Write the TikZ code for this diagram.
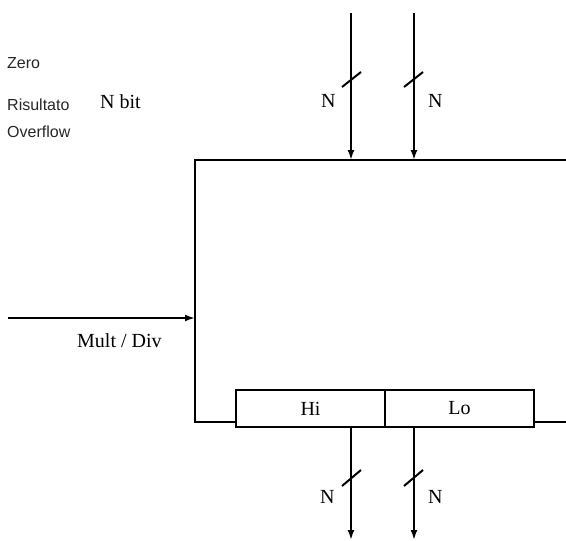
\documentclass[tikz,border=0pt]{standalone}
\usepackage{fontspec}
\setmainfont{Liberation Serif}
\newfontfamily\arialfont{Liberation Sans}
\usetikzlibrary{arrows.meta}
\begin{document}
\begin{tikzpicture}[x=1pt,y=-1pt,
  wire/.style={line width=2pt},
  arr/.style={wire,-{Latex[length=10pt,width=7pt]}},
  slash/.style={line width=2pt},
  reg/.style={draw,line width=2pt,minimum width=149pt,minimum height=37pt,inner sep=0pt,font=\fontsize{20}{23}\selectfont},
  lab/.style={inner sep=0pt,anchor=base west,font=\fontsize{20}{23}\selectfont},
  flag/.style={inner sep=0pt,anchor=base west,font=\arialfont\fontsize{16}{19}\selectfont,text=black!85}]
\useasboundingbox (0,0) rectangle (566,541);
% flags
\node[flag] (zero) at (7,68) {Zero};
\node[flag] (ris) at (7,110) {Risultato};
\node[flag] (ovf) at (7,137) {Overflow};
\node[lab] (nbit) at (100,108) {N bit};
% top inputs
\coordinate (a1) at (351,13);
\coordinate (a2) at (414,13);
\coordinate (b1) at (351,160);
\coordinate (b2) at (414,160);
\draw[arr] (a1) -- (b1);
\draw[arr] (a2) -- (b2);
\draw[slash] (342,87) -- (361,72);
\draw[slash] (404,87) -- (423,72);
\node[lab] (n1) at (321,107) {N};
\node[lab] (n2) at (428,107) {N};
% unit outline
\coordinate (tr) at (566,160);
\coordinate (tl) at (195,160);
\coordinate (bl) at (195,421.5);
\node[reg] (hi) at (310.5,408.5) {Hi};
\node[reg] (lo) at (459.5,408.5) {Lo};
\coordinate (br) at (566,421.5);
\draw[wire] (tr) -- (tl) -- (bl) -- (bl -| hi.west);
\draw[wire] (lo.east |- br) -- (br);
% mult/div
\coordinate (m0) at (8,318);
\coordinate (m1) at (195,318);
\draw[arr] (m0) -- (m1);
\node[lab] (md) at (77,347) {Mult / Div};
% outputs
\coordinate (c1) at (351,540);
\coordinate (c2) at (414,540);
\draw[arr] (hi.south -| c1) -- (c1);
\draw[arr] (lo.south -| c2) -- (c2);
\draw[slash] (342,486) -- (361,470);
\draw[slash] (404,486) -- (423,470);
\node[lab] (n3) at (320,503) {N};
\node[lab] (n4) at (428,503) {N};
\end{tikzpicture}
\end{document}
